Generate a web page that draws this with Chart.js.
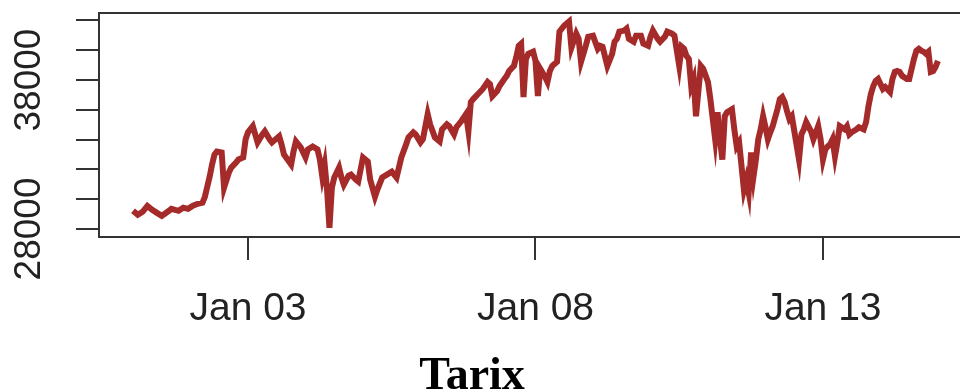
<!DOCTYPE html>
<html>
<head>
<meta charset="utf-8">
<title>Tarix</title>
<script src="https://cdn.jsdelivr.net/npm/chart.js@4.4.1/dist/chart.umd.min.js"></script>
<style>
  html, body { margin: 0; padding: 0; background: #fff; }
  #wrap { width: 960px; height: 392px; }
</style>
</head>
<body>
<div id="wrap"><canvas id="price-chart" width="960" height="392"></canvas></div>
<script>
// hours since Jan 01 00:00
var hours = [
  0, 2, 4, 6, 8, 10, 12, 15, 16, 19,
  21, 23, 25, 27, 29, 30, 31, 32, 33, 34,
  35, 37, 38, 40, 41, 43, 44, 46, 47, 48,
  50, 52, 54, 55, 57, 58, 61, 62, 63, 66,
  67, 68, 70, 72, 73, 75, 77, 78, 79, 80,
  81, 82, 83, 84, 86, 87, 88, 90, 91, 93,
  94, 96, 98, 99, 101, 102, 104, 106, 108, 110,
  112, 114, 115, 117, 118, 120, 121, 123, 124, 126,
  128, 129, 131, 132, 134, 135, 137, 139, 140, 141,
  142, 144, 146, 148, 149, 150, 152, 153, 155, 156,
  157, 159, 160, 161, 162, 163, 164, 165, 167, 168,
  169, 170, 172, 173, 174, 175, 177, 178, 180, 181,
  182, 183, 185, 186, 187, 189, 190, 192, 194, 195,
  196, 198, 200, 201, 202, 203, 205, 206, 207, 209,
  210, 212, 213, 215, 216, 217, 219, 220, 222, 223,
  225, 226, 228, 229, 230, 231, 232, 233, 234, 235,
  237, 238, 240, 241, 242, 243, 244, 245, 246, 247,
  248, 250, 251, 252, 253, 255, 256, 257, 258, 259,
  260, 261, 262, 263, 264, 265, 266, 267, 269, 270,
  271, 272, 273, 274, 275, 278, 279, 280, 281, 283,
  284, 286, 287, 288, 289, 290, 291, 292, 293, 294,
  295, 297, 298, 299, 300, 302, 303, 305, 306, 307,
  308, 309, 310, 311, 312, 313, 314, 316, 317, 318,
  319, 320, 321, 323, 324, 326, 327, 328, 329, 330,
  331, 332, 333, 334, 335, 336
];

var prices = [
  29220, 28950, 29150, 29550, 29290, 29080, 28880, 29220, 29350, 29220,
  29420, 29350, 29560, 29690, 29760, 30160, 30840, 31520, 32330, 33000,
  33200, 33140, 30770, 31790, 32120, 32460, 32660, 32800, 34020, 34490,
  34900, 33810, 34350, 34560, 34020, 33810, 34220, 33680, 33000, 32330,
  33210, 33880, 33480, 32800, 33340, 33540, 33340, 32660, 31520, 32330,
  30640, 28070, 30770, 31450, 32120, 31450, 30970, 31580, 31650, 31310,
  31180, 32800, 32530, 31310, 30160, 30640, 31450, 31650, 31850, 31450,
  32800, 33680, 34150, 34490, 34350, 33810, 34020, 35710, 35030, 34150,
  33880, 34690, 35030, 34900, 34350, 34830, 35230, 35710, 34560, 36520,
  36720, 37060, 37400, 37870, 37730, 36920, 37260, 37600, 38070, 38280,
  38610, 38950, 39560, 40300, 40440, 36860, 39420, 39760, 39900, 39290,
  36920, 38750, 38210, 37870, 38610, 38950, 39220, 41250, 41660, 41790,
  41930, 40170, 41120, 40770, 39220, 40300, 40910, 40980, 40100, 40300,
  40240, 38950, 39760, 40570, 40770, 41250, 41320, 41450, 40770, 40570,
  40980, 40980, 40440, 40300, 40910, 41320, 40770, 40570, 40910, 41250,
  41110, 40980, 38950, 40240, 40100, 39630, 39420, 37600, 38070, 35570,
  38950, 38750, 37870, 36720, 35370, 34020, 35840, 34020, 32660, 35570,
  35840, 36040, 34690, 33540, 33810, 30640, 31310, 30430, 33140, 31520,
  32660, 34020, 34690, 35570, 34830, 34020, 34490, 34900, 36040, 36720,
  36860, 36520, 35910, 35370, 35570, 32660, 34350, 34690, 35170, 34560,
  34020, 34900, 34020, 32660, 33340, 33540, 33680, 34020, 32870, 33810,
  34900, 34690, 34900, 34350, 34490, 34690, 34830, 34690, 35170, 36250,
  37060, 37600, 37940, 38070, 37730, 37400, 37530, 37190, 38070, 38550,
  38610, 38550, 38280, 38070, 38070, 39420, 39970, 40100, 39970, 39900,
  39760, 39900, 38550, 38610, 38880, 39290
];

var xTicks = [48, 168, 288];
var xTickLabels = ["Jan 03", "Jan 08", "Jan 13"];
var yTicks = [28000, 30000, 32000, 34000, 36000, 38000, 40000, 42000];
var yTickLabels = ["28000", "", "", "", "", "38000", "", ""];
var xTitle = "Tarix";

var axisColor = "#333";
var textColor = "#222";

// R style box: top edge (left and bottom come from the axis borders)
var boxTop = {
  id: "boxTop",
  afterDraw: function(chart) {
    var c = chart.ctx, a = chart.chartArea;
    c.save();
    c.strokeStyle = axisColor;
    c.lineWidth = 2;
    c.beginPath();
    c.moveTo(a.left, a.top);
    c.lineTo(a.right, a.top);
    c.stroke();
    c.font = "bold 46px 'Liberation Serif', 'Times New Roman', serif";
    c.fillStyle = "#000";
    c.textAlign = "center";
    c.textBaseline = "alphabetic";
    c.fillText(xTitle, 472, 389);
    c.restore();
  }
};

var ctx = document.getElementById("price-chart").getContext("2d");
var chart = new Chart(ctx, {
  type: "line",
  data: {
    datasets: [{
      data: hours.map(function(h, i) { return { x: h, y: prices[i] }; }),
      borderColor: "#A52A2A",
      borderWidth: 6,
      pointRadius: 0,
      tension: 0,
      fill: false
    }]
  },
  options: {
    responsive: false,
    animation: false,
    devicePixelRatio: 1,
    layout: { padding: { top: 13, left: 0, right: 0, bottom: 0 } },
    plugins: { legend: { display: false }, tooltip: { enabled: false } },
    scales: {
      x: {
        type: "linear",
        min: -14.2,
        max: 345.2,
        border: { display: true, color: axisColor, width: 2 },
        grid: { drawOnChartArea: false, drawTicks: true, tickLength: 23, color: axisColor, lineWidth: 2 },
        ticks: {
          autoSkip: false,
          maxRotation: 0,
          padding: 26,
          color: textColor,
          font: { family: "'Liberation Sans', Arial, sans-serif", size: 39 },
          callback: function(v) {
            var i = xTicks.indexOf(v);
            return i < 0 ? "" : xTickLabels[i];
          }
        },
        afterBuildTicks: function(s) {
          s.ticks = xTicks.map(function(v) { return { value: v }; });
        },
        afterFit: function(s) {
          s.height = 155;
          s.paddingLeft = 0; s.paddingRight = 0;
        }
      },
      y: {
        min: 27460,
        max: 42500,
        border: { display: true, color: axisColor, width: 2 },
        grid: { drawOnChartArea: false, drawTicks: true, tickLength: 23, color: axisColor, lineWidth: 2 },
        ticks: {
          autoSkip: false,
          minRotation: 90,
          maxRotation: 90,
          crossAlign: "center",
          padding: -5,
          color: textColor,
          font: { family: "'Liberation Sans', Arial, sans-serif", size: 37 },
          callback: function(v) {
            var i = yTicks.indexOf(v);
            return i < 0 ? "" : yTickLabels[i];
          }
        },
        afterBuildTicks: function(s) {
          s.ticks = yTicks.map(function(v) { return { value: v }; });
        },
        afterFit: function(s) {
          s.width = 99;
          s.paddingTop = 0; s.paddingBottom = 0;
        }
      }
    }
  },
  plugins: [boxTop]
});
</script>
</body>
</html>
